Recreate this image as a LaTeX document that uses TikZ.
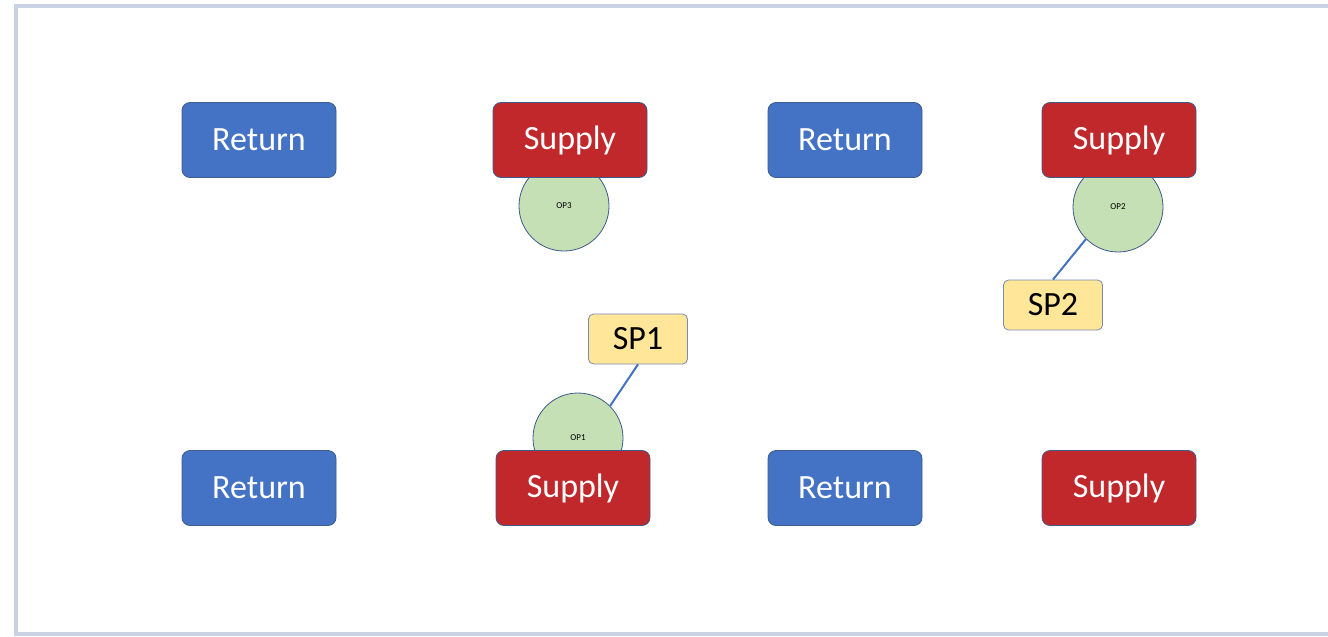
\documentclass[tikz,border=0pt]{standalone}
\usepackage{fontspec}
\setmainfont{Carlito}
\definecolor{retblue}{HTML}{4472C4}
\definecolor{supred}{HTML}{C0282B}
\definecolor{opgreen}{HTML}{C5E0B4}
\definecolor{spyellow}{HTML}{FFE699}
\definecolor{edgeblue}{HTML}{3F5A8C}
\definecolor{framecol}{HTML}{C8D2E3}
\definecolor{linkblue}{HTML}{4472C4}
\tikzset{
  box/.style={rectangle, rounded corners=8pt, draw=edgeblue, line width=0.8pt,
    minimum width=154pt, minimum height=75pt, inner sep=0pt,
    text=white, font=\fontsize{34}{36}\selectfont},
  retbox/.style={box, fill=retblue},
  supbox/.style={box, fill=supred},
  opcirc/.style={circle, draw=edgeblue, line width=0.8pt, fill=opgreen,
    minimum size=90pt, inner sep=0pt, font=\fontsize{9}{10}\selectfont},
  spbox/.style={rectangle, rounded corners=5pt, draw=edgeblue!70, line width=0.8pt,
    fill=spyellow, minimum width=99pt, minimum height=50pt, inner sep=0pt,
    font=\fontsize{34}{36}\selectfont},
  link/.style={draw=linkblue, line width=2pt}
}
\begin{document}
\begin{tikzpicture}[x=1pt,y=-1pt]
\useasboundingbox (0,0) rectangle (1328,637);
\draw[framecol, line width=4pt] (1340,6) -- (16,6) -- (16,634) -- (1340,634);
% circles behind boxes
\node[opcirc] (op3) at (564,206) {OP3};
\node[opcirc] (op2) at (1118,207) {OP2};
\node[opcirc] (op1) at (578,438) {OP1};
% top row
\node[retbox] (r1) at (259,140) {Return};
\node[supbox] (s1) at (570,140) {Supply};
\node[retbox] (r2) at (845,140) {Return};
\node[supbox] (s2) at (1119,140) {Supply};
% bottom row
\node[retbox] (r3) at (259,488) {Return};
\node[supbox] (s3) at (573,488) {Supply};
\node[retbox] (r4) at (845,488) {Return};
\node[supbox] (s4) at (1119,488) {Supply};
% set points
\node[spbox] (sp1) at (638,339) {SP1};
\node[spbox] (sp2) at (1053,305) {SP2};
\draw[link] (sp1.south) -- (op1.45);
\draw[link] (sp2.north) -- (op2.225);
\end{tikzpicture}
\end{document}
